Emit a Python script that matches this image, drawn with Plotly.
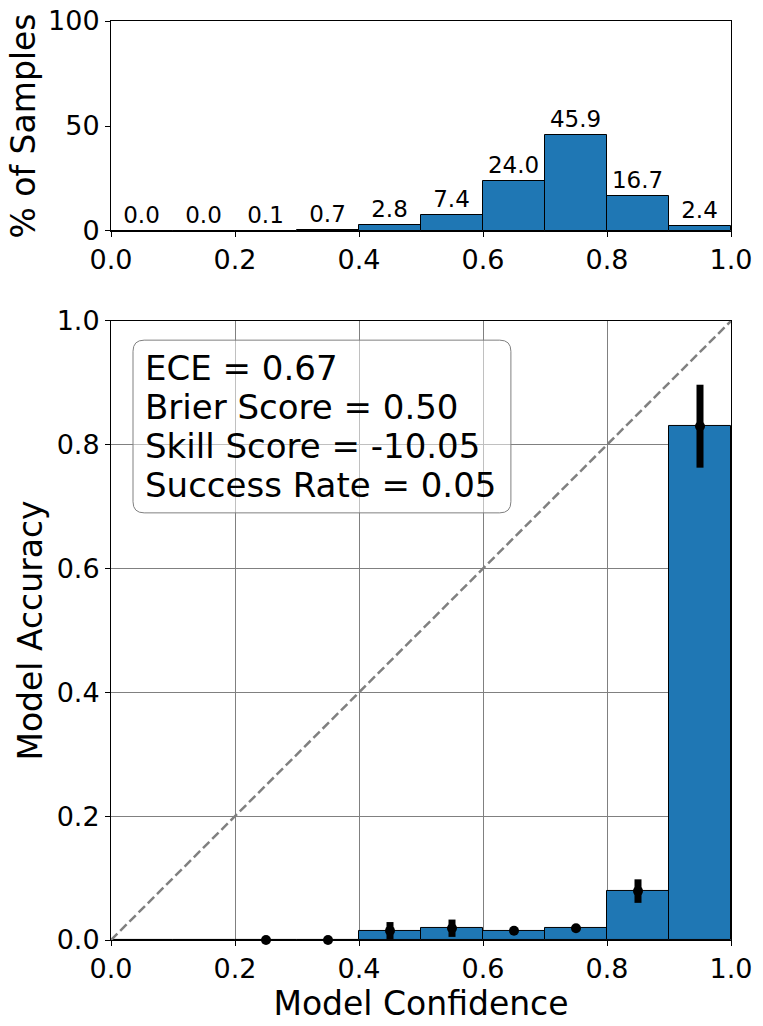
import plotly.graph_objects as go

# reliability diagram data (10 confidence bins)
bin_centers = [0.05, 0.15, 0.25, 0.35, 0.45, 0.55, 0.65, 0.75, 0.85, 0.95]
pct_samples = [0.0, 0.0, 0.1, 0.7, 2.8, 7.4, 24.0, 45.9, 16.7, 2.4]
pct_labels = ["0.0", "0.0", "0.1", "0.7", "2.8", "7.4", "24.0", "45.9", "16.7", "2.4"]
accuracy = [0.0, 0.0, 0.0, 0.0, 0.015, 0.019, 0.015, 0.019, 0.079, 0.83]
acc_err = [0.0, 0.0, 0.0, 0.0, 0.014, 0.014, 0.0, 0.0, 0.019, 0.067]
stats_lines = ["ECE = 0.67", "Brier Score = 0.50", "Skill Score = -10.05", "Success Rate = 0.05"]
tick_vals = [0, 0.2, 0.4, 0.6, 0.8, 1.0]
tick_text = ["0.0", "0.2", "0.4", "0.6", "0.8", "1.0"]

BLUE = "#1f77b4"
FONT = "DejaVu Sans"

# only bins that actually hold samples get a dot
pts = [i for i, p in enumerate(pct_samples) if p > 0]

fig = go.Figure()

# top: histogram of samples per bin
fig.add_trace(go.Bar(
    x=bin_centers, y=pct_samples, width=0.1,
    marker=dict(color=BLUE, line=dict(color="black", width=1)),
    text=pct_labels, textposition="outside", constraintext="none",
    textfont=dict(size=23, color="black", family=FONT),
    cliponaxis=False, xaxis="x", yaxis="y", showlegend=False,
))

# bottom: accuracy per bin
fig.add_trace(go.Bar(
    x=bin_centers, y=accuracy, width=0.1,
    marker=dict(color=BLUE, line=dict(color="black", width=1)),
    xaxis="x2", yaxis="y2", showlegend=False,
))

# perfect calibration diagonal
fig.add_trace(go.Scatter(
    x=[0, 1], y=[0, 1], mode="lines",
    line=dict(color="gray", width=2.5, dash="9px,4px"),
    xaxis="x2", yaxis="y2", showlegend=False,
))

fig.add_trace(go.Scatter(
    x=[bin_centers[i] for i in pts], y=[accuracy[i] for i in pts], mode="markers",
    marker=dict(color="black", size=10),
    error_y=dict(type="data", array=[acc_err[i] for i in pts], color="black",
                 thickness=7, width=0),
    cliponaxis=False, xaxis="x2", yaxis="y2", showlegend=False,
))

# stats box (rounded, semi transparent)
x0, x1, y0, y1, r = 0.0355, 0.645, 0.690, 0.969, 0.018
path = (f"M {x0+r},{y0} L {x1-r},{y0} Q {x1},{y0} {x1},{y0+r} "
        f"L {x1},{y1-r} Q {x1},{y1} {x1-r},{y1} L {x0+r},{y1} Q {x0},{y1} {x0},{y1-r} "
        f"L {x0},{y0+r} Q {x0},{y0} {x0+r},{y0} Z")
fig.add_shape(type="path", path=path, xref="x2", yref="y2",
              line=dict(color="gray", width=1), fillcolor="rgba(255,255,255,0.5)")
for k, line in enumerate(stats_lines):
    fig.add_annotation(x=0.0516, y=0.924 - 0.063 * k, xref="x2", yref="y2",
                       text=line, showarrow=False, xanchor="left", yanchor="middle",
                       font=dict(size=34, color="black", family=FONT))

axis_common = dict(showline=True, linecolor="black", linewidth=1, mirror=True,
                   ticks="outside", ticklen=5, tickcolor="black",
                   tickfont=dict(size=27, color="black", family=FONT),
                   zeroline=False, automargin=False)

fig.update_layout(
    width=763, height=1026,
    margin=dict(l=111, r=32, t=21, b=86),
    paper_bgcolor="white", plot_bgcolor="white",
    font=dict(family=FONT, color="black"),
    bargap=0,
    xaxis=dict(domain=[0, 1], range=[0, 1], anchor="y", tickvals=tick_vals,
               ticktext=tick_text, showgrid=False, **axis_common),
    yaxis=dict(domain=[0.7715, 1], range=[0, 100], anchor="x", tickvals=[0, 50, 100],
               showgrid=False,
               title=dict(text="% of Samples", font=dict(size=33, family=FONT), standoff=2),
               **axis_common),
    xaxis2=dict(domain=[0, 1], range=[0, 1], anchor="y2", tickvals=tick_vals,
                ticktext=tick_text, showgrid=True, gridcolor="gray", gridwidth=1,
                title=dict(text="Model Confidence", font=dict(size=33, family=FONT), standoff=3),
                **axis_common),
    yaxis2=dict(domain=[0, 0.6736], range=[0, 1], anchor="x2", tickvals=tick_vals,
                ticktext=tick_text, showgrid=True, gridcolor="gray", gridwidth=1,
                title=dict(text="Model Accuracy", font=dict(size=33, family=FONT), standoff=4),
                **axis_common),
)

# drop the default 8px page margin so the figure fills the window exactly
fig.write_html("out.html", config={"displayModeBar": False},
               post_script="document.body.style.margin='0px';")
